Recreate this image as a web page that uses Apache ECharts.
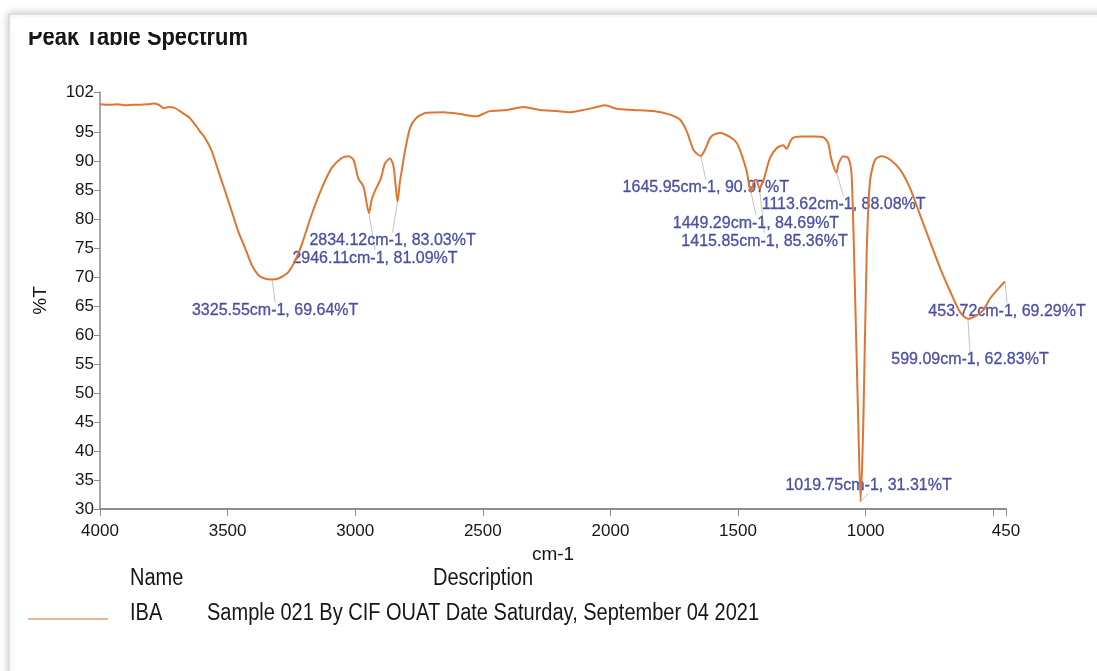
<!DOCTYPE html>
<html>
<head>
<meta charset="utf-8">
<title>Peak Table Spectrum</title>
<script src="https://cdn.jsdelivr.net/npm/echarts@6/dist/echarts.min.js"></script>
<style>
  html, body { margin: 0; padding: 0; background: #ffffff; }
  #chart { width: 1097px; height: 671px; }
</style>
</head>
<body>
<div id="chart"></div>
<script>
// FTIR spectrum of sample IBA: wavenumber (cm-1) and transmittance (%T)
const wavenumber = [
  4000, 3960, 3930, 3900, 3870, 3840, 3810, 3790, 3770, 3750, 3730, 3710, 3690, 3667, 3650,
  3628, 3610, 3589, 3562, 3536, 3510, 3484, 3458, 3432, 3406, 3380, 3355, 3325.55, 3301, 3280,
  3262, 3236, 3210, 3171, 3131, 3092, 3053, 3027, 3007, 2988, 2968, 2958, 2946.11, 2935, 2920,
  2900, 2883, 2864, 2851, 2843, 2834.12, 2825, 2818, 2805, 2785, 2759, 2720, 2655, 2589, 2550,
  2524, 2500, 2472, 2406, 2341, 2276, 2211, 2158, 2106, 2054, 2021, 1976, 1911, 1832, 1767,
  1727, 1701, 1675, 1660, 1645.95, 1630, 1610, 1597, 1570, 1531, 1505, 1486, 1466, 1449.29, 1435,
  1429, 1415.85, 1400, 1394, 1375, 1349, 1323, 1310, 1295, 1284, 1245, 1200, 1166, 1147, 1135,
  1113.62, 1107, 1088, 1068, 1055, 1042, 1029, 1019.75, 1009, 996, 983, 963, 937, 904, 865,
  826, 787, 748, 708, 669, 630, 599.09, 570, 540, 513, 473, 453.72
];
const transmittance = [
  99.9, 99.8, 99.9, 99.7, 99.8, 99.8, 99.9, 100.0, 99.8, 99.2, 99.4, 99.3, 98.8, 98.1, 97.6,
  96.4, 95.3, 94.1, 91.8, 88.3, 84.9, 81.4, 77.9, 75.1, 72.2, 70.4, 69.8, 69.64, 69.8, 70.3,
  70.9, 72.8, 75.6, 80.8, 85.4, 88.9, 90.6, 90.9, 90.3, 87.1, 85.7, 83.5, 81.09, 83.5, 85.2,
  87.0, 89.7, 90.5, 89.4, 86.5, 83.03, 86.5, 88.3, 91.8, 95.8, 97.6, 98.4, 98.5, 98.2, 97.9,
  97.8, 98.2, 98.7, 98.9, 99.4, 98.9, 98.7, 98.5, 98.9, 99.4, 99.7, 99.1, 98.9, 98.7, 98.1,
  97.2, 95.2, 92.0, 91.3, 90.97, 92.0, 94.0, 94.6, 94.9, 94.2, 93.2, 91.2, 88.3, 84.69, 86.8,
  86.8, 85.36, 86.8, 87.7, 90.6, 92.3, 92.8, 92.2, 93.5, 94.1, 94.3, 94.3, 94.2, 93.2, 90.5,
  88.08, 89.5, 90.9, 90.6, 87.7, 68.1, 45.1, 31.31, 45.0, 73.9, 86.6, 90.3, 90.9, 90.3, 88.6,
  85.4, 80.8, 76.2, 71.6, 67.6, 64.0, 62.83, 63.3, 64.3, 66.3, 68.4, 69.29
];

// Picked peaks
const peakWavenumber = [3325.55, 2946.11, 2834.12, 1645.95, 1449.29, 1415.85, 1113.62, 1019.75, 599.09, 453.72];
const peakTransmittance = [69.64, 81.09, 83.03, 90.97, 84.69, 85.36, 88.08, 31.31, 62.83, 69.29];

// Axis ticks and labels
const xTickValues = [4000, 3500, 3000, 2500, 2000, 1500, 1000, 500, 450];
const xLabelValues = [4000, 3500, 3000, 2500, 2000, 1500, 1000, 450];
const yTickValues = [30, 35, 40, 45, 50, 55, 60, 65, 70, 75, 80, 85, 90, 95, 102];

const seriesName = 'IBA';
const seriesDescription = 'Sample 021 By CIF OUAT Date Saturday, September 04 2021';

// Offsets (px) of each peak label centre from its peak
const labelOffsets = [[3, 31], [6, 45], [-5, 39], [5, 32], [5, 31], [5, 53], [7, 32], [8, -16], [2, 41], [2, 30]];

const SANS = '"Liberation Sans", Arial, sans-serif';
const INK = '#161616';

const spectrum = wavenumber.map((w, i) => [w, transmittance[i]]);
const peaks = peakWavenumber.map((w, i) => [w, peakTransmittance[i]]);

// Horizontally condensed text block
function narrowText(x, y, text, font, sx) {
  return {
    type: 'text', z: 50, silent: true, x: x, y: y, scaleX: sx,
    style: { text: text, font: font, fill: INK, align: 'left', verticalAlign: 'top' }
  };
}

const chart = echarts.init(document.getElementById('chart'), null, { renderer: 'canvas' });

chart.setOption({
  animation: false,
  backgroundColor: '#ffffff',
  grid: { left: 100, right: 91, top: 92, bottom: 162, containLabel: false },
  xAxis: {
    type: 'value',
    min: 450,
    max: 4000,
    inverse: true,
    name: 'cm-1',
    nameLocation: 'middle',
    nameGap: 35,
    nameTextStyle: { fontFamily: SANS, fontSize: 19, color: INK },
    axisLine: { show: true, lineStyle: { color: '#8c8c8c', width: 2 } },
    axisTick: { show: true, length: 7, customValues: xTickValues, lineStyle: { color: '#8c8c8c' } },
    axisLabel: {
      customValues: xLabelValues, fontFamily: SANS, fontSize: 17, color: INK, margin: 14,
      formatter: v => String(v)
    },
    splitLine: { show: false }
  },
  yAxis: {
    type: 'value',
    min: 30,
    max: 102,
    name: '%T',
    nameLocation: 'middle',
    nameGap: 50,
    nameTextStyle: { fontFamily: SANS, fontSize: 19, color: INK },
    axisLine: { show: true, lineStyle: { color: '#8c8c8c', width: 1.5 } },
    axisTick: { show: true, length: 6, customValues: yTickValues, lineStyle: { color: '#8c8c8c' } },
    axisLabel: {
      customValues: yTickValues, fontFamily: SANS, fontSize: 17, color: INK, margin: 6,
      formatter: v => String(v)
    },
    splitLine: { show: false }
  },
  legend: {
    data: [seriesName],
    left: 23,
    top: 613,
    icon: 'rect',
    itemWidth: 80,
    itemHeight: 2,
    selectedMode: false,
    formatter: () => '',
    itemStyle: { color: '#e7b596' },
    textStyle: { fontSize: 10 }
  },
  graphic: [
    {
      type: 'rect', z: -10, silent: true,
      shape: { x: 9, y: 14, width: 1200, height: 800 },
      style: { fill: '#ffffff', stroke: '#d9d9d9', lineWidth: 1.5, shadowBlur: 8, shadowColor: 'rgba(0,0,0,0.22)' }
    },
    narrowText(28, 26, 'Peak Table Spectrum', 'bold 25px ' + SANS, 0.876),
    {
      type: 'rect', z: 60, silent: true,
      shape: { x: 11, y: 18, width: 1090, height: 14 },
      style: { fill: '#ffffff' }
    },
    narrowText(130, 567, 'Name', '23px ' + SANS, 0.87),
    narrowText(433, 567, 'Description', '23px ' + SANS, 0.87),
    narrowText(130, 602, seriesName, '23px ' + SANS, 0.87),
    narrowText(207, 602, seriesDescription, '23px ' + SANS, 0.87)
  ],
  series: [
    {
      name: seriesName,
      type: 'line',
      z: 3,
      data: spectrum,
      symbol: 'none',
      smooth: 0.25,
      lineStyle: { color: '#e07530', width: 2 },
      itemStyle: { color: '#e07530' }
    },
    {
      name: 'peaks',
      type: 'scatter',
      z: 2,
      data: peaks,
      symbol: 'circle',
      symbolSize: 2,
      itemStyle: { color: 'rgba(0,0,0,0)' },
      label: {
        show: true,
        position: 'inside',
        fontFamily: SANS,
        fontSize: 16,
        color: '#262a94',
        textBorderColor: '#262a94',
        textBorderWidth: 0.3,
        formatter: p => p.value[0].toFixed(2) + 'cm-1, ' + p.value[1].toFixed(2) + '%T'
      },
      labelLine: { show: true, lineStyle: { color: '#c3c3c3', width: 1 } },
      labelLayout: function (params) {
        const o = labelOffsets[params.dataIndex];
        const cx = params.rect.x + params.rect.width / 2;
        const cy = params.rect.y + params.rect.height / 2;
        return { x: cx + o[0], y: cy + o[1], align: 'center', verticalAlign: 'middle' };
      }
    }
  ]
});
</script>
</body>
</html>
